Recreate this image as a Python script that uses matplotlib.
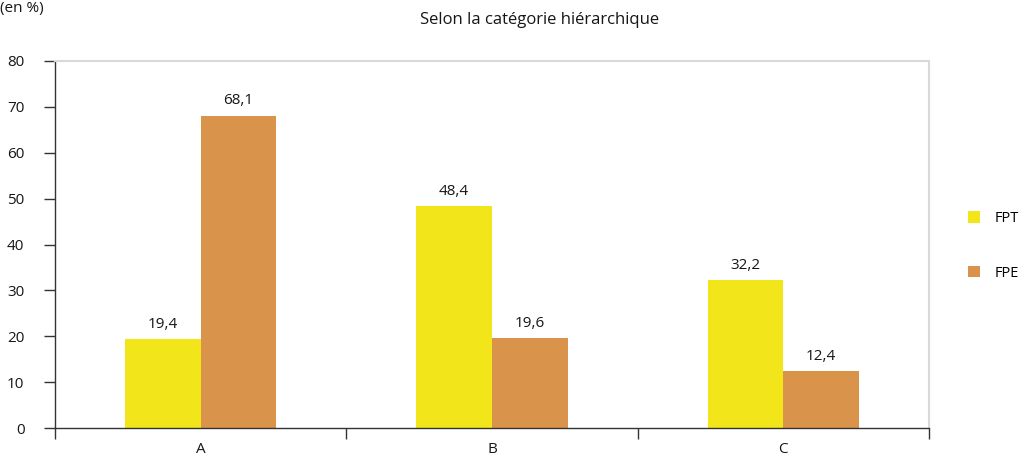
import matplotlib.pyplot as plt
import numpy as np

plt.rcParams['font.family'] = ['Open Sans', 'DejaVu Sans']

categories = ['A', 'B', 'C']
fpt = [19.4, 48.4, 32.2]
fpe = [68.1, 19.6, 12.4]
series_names = ['FPT', 'FPE']

col_fpt = '#F2E51A'
col_fpe = '#D9934A'

fig = plt.figure(figsize=(10.27, 4.66), dpi=100)
ax = fig.add_axes([55 / 1027, 38 / 466, 874 / 1027, 367 / 466])

x = np.arange(len(categories))
w = 0.26
b1 = ax.bar(x - w / 2, fpt, w, color=col_fpt, label=series_names[0])
b2 = ax.bar(x + w / 2, fpe, w, color=col_fpe, label=series_names[1])

for bars, vals in [(b1, fpt), (b2, fpe)]:
    for r, v in zip(bars, vals):
        ax.text(r.get_x() + r.get_width() / 2, v + 1.6, f'{v:.1f}'.replace('.', ','),
                ha='center', va='bottom', fontsize=11, color='#161616')

ax.set_xlim(-0.5, 2.5)
ax.set_ylim(0, 80)
ax.set_yticks(range(0, 81, 10))
ax.set_xticks([-0.5, 0.5, 1.5, 2.5])
ax.set_xticklabels([])
ax.set_xticks(x, minor=True)
ax.set_xticklabels(categories, minor=True)
ax.tick_params(axis='x', which='major', length=8, width=1, color='#333333')
ax.tick_params(axis='x', which='minor', length=0, pad=10, labelsize=11, labelcolor='#161616')
ax.tick_params(axis='y', length=8, width=1, color='#333333', pad=14, labelsize=11, labelcolor='#161616')

for s in ['top', 'right']:
    ax.spines[s].set_color('#d9d9d9')
    ax.spines[s].set_linewidth(1.5)
for s in ['left', 'bottom']:
    ax.spines[s].set_color('#333333')
    ax.spines[s].set_linewidth(1)

fig.text(540 / 1027, 1 - 20 / 466, 'Selon la catégorie hiérarchique', ha='center', va='center',
         fontsize=12, color='#161616')
fig.text(0.0, 0.998, '(en %)', ha='left', va='top', fontsize=11, color='#161616')

ax.legend(loc='center left', bbox_to_anchor=(1.038, 0.496), borderaxespad=0, frameon=False,
          fontsize=10.5, handlelength=0.85, handleheight=0.85, labelspacing=2.7,
          handletextpad=1.0)

fig.savefig('out.png', dpi=100)
